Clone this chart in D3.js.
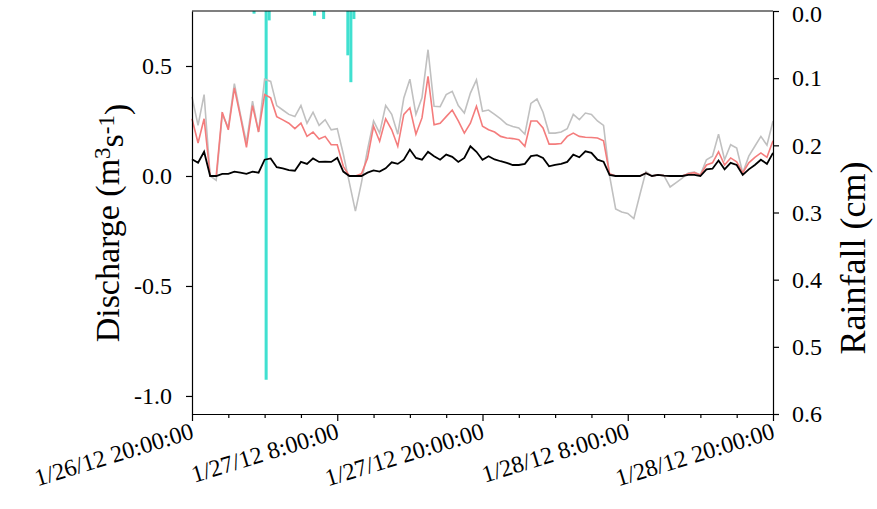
<!DOCTYPE html>
<meta charset="utf-8">
<style>
body { margin: 0; background: #fff; }
.axis path, .axis line { stroke: #000; stroke-width: 1.2; }
</style>
<body>
<script src="https://d3js.org/d3.v7.min.js"></script>
<script>

var width = 877,
    height = 509;

var margin = {top: 11, right: 104, bottom: 95, left: 192};
var serif = "Liberation Serif";

// discharge series, one value every 30 min from 1/26/12 20:00 to 1/28/12 20:00
var grayQ = [0.36, 0.23, 0.37, 0.0, -0.02, 0.28, 0.22, 0.42, 0.28, 0.15,
  0.34, 0.20, 0.44, 0.43, 0.32, 0.30, 0.28, 0.27, 0.32, 0.24,
  0.29, 0.23, 0.256, 0.21, 0.215, 0.10, -0.03, -0.16, -0.03, 0.12,
  0.25, 0.195, 0.32, 0.28, 0.19, 0.355, 0.44, 0.28, 0.355, 0.574,
  0.317, 0.315, 0.37, 0.385, 0.32, 0.286, 0.377, 0.437, 0.294, 0.30,
  0.28, 0.26, 0.235, 0.225, 0.218, 0.19, 0.33, 0.35, 0.29, 0.195,
  0.195, 0.20, 0.215, 0.28, 0.256, 0.286, 0.28, 0.25, 0.23, 0.0,
  -0.15, -0.164, -0.17, -0.194, -0.085, 0.02, 0.0, 0.005, 0.0, -0.05,
  -0.03, -0.01, 0.014, 0.018, 0.005, 0.074, 0.09, 0.19, 0.074, 0.142,
  0.127, 0.014, 0.09, 0.135, 0.18, 0.14, 0.25];

var redQ = [0.26, 0.15, 0.26, 0.0, 0.0, 0.29, 0.21, 0.40, 0.27, 0.13,
  0.32, 0.20, 0.37, 0.355, 0.27, 0.255, 0.24, 0.215, 0.24, 0.18,
  0.20, 0.168, 0.18, 0.142, 0.142, 0.044, 0.0, 0.0, 0.01, 0.08,
  0.226, 0.158, 0.26, 0.21, 0.135, 0.28, 0.31, 0.19, 0.264, 0.453,
  0.233, 0.24, 0.27, 0.30, 0.25, 0.195, 0.24, 0.317, 0.226, 0.21,
  0.20, 0.18, 0.173, 0.17, 0.165, 0.135, 0.25, 0.25, 0.218, 0.145,
  0.145, 0.148, 0.18, 0.195, 0.18, 0.176, 0.175, 0.173, 0.16, 0.01,
  0.0, 0.0, 0.0, 0.0, 0.0, 0.013, 0.0, 0.005, 0.002, 0.0,
  0.0, 0.0, 0.01, 0.015, 0.005, 0.05, 0.06, 0.11, 0.05, 0.082,
  0.064, 0.014, 0.06, 0.085, 0.105, 0.085, 0.16];

var blackQ = [0.076, 0.06, 0.11, 0.0, 0.0, 0.01, 0.01, 0.02, 0.015, 0.01,
  0.02, 0.015, 0.074, 0.08, 0.04, 0.035, 0.027, 0.024, 0.064, 0.055,
  0.08, 0.064, 0.065, 0.064, 0.082, 0.02, 0.0, 0.0, 0.0, 0.015,
  0.025, 0.02, 0.035, 0.062, 0.055, 0.074, 0.12, 0.082, 0.074, 0.11,
  0.09, 0.074, 0.097, 0.087, 0.064, 0.082, 0.135, 0.11, 0.074, 0.09,
  0.075, 0.067, 0.06, 0.05, 0.05, 0.055, 0.09, 0.095, 0.082, 0.044,
  0.05, 0.055, 0.064, 0.097, 0.085, 0.112, 0.105, 0.074, 0.065, 0.005,
  0.0, 0.0, 0.0, 0.0, 0.0, 0.013, 0.0, 0.005, 0.002, 0.0,
  0.0, 0.0, 0.005, 0.005, 0.0, 0.03, 0.033, 0.07, 0.03, 0.06,
  0.05, 0.005, 0.03, 0.05, 0.074, 0.055, 0.105];

// rainfall, 15 min totals (cm)
var rainTimes = ["2012-01-27 01:00", "2012-01-27 02:00", "2012-01-27 02:15",
  "2012-01-27 06:00", "2012-01-27 06:45", "2012-01-27 08:45",
  "2012-01-27 09:00", "2012-01-27 09:15"];
var rainCm = [0.004, 0.549, 0.014, 0.007, 0.012, 0.066, 0.106, 0.012];

var leftTicks = [-1.0, -0.5, 0.0, 0.5];
var rightTicks = [0, 0.1, 0.2, 0.3, 0.4, 0.5, 0.6];

var parseT = d3.timeParse("%Y-%m-%d %H:%M");
var start = parseT("2012-01-26 20:00"),
    end = parseT("2012-01-28 20:00");

var qTimes = grayQ.map(function(d, i) { return d3.timeMinute.offset(start, 30 * i); });

var svg = d3.select("body").append("svg")
    .attr("width", width)
    .attr("height", height);

var x = d3.scaleTime()
    .domain([start, end])
    .range([margin.left, width - margin.right]);

var y = d3.scaleLinear()
    .domain([-1.082, 0.75])
    .range([height - margin.bottom, margin.top]);

var yR = d3.scaleLinear()
    .domain([0, 0.6])
    .range([margin.top, height - margin.bottom]);

// rain bars hanging from the top
svg.append("g").selectAll("rect")
    .data(rainCm)
    .enter().append("rect")
    .attr("x", function(d, i) { return x(parseT(rainTimes[i])); })
    .attr("width", function(d, i) {
      var t = parseT(rainTimes[i]);
      return x(d3.timeMinute.offset(t, 15)) - x(t);
    })
    .attr("y", yR(0))
    .attr("height", function(d) { return yR(d) - yR(0); })
    .style("fill", "#40E0D0");

var line = d3.line()
    .x(function(d, i) { return x(qTimes[i]); })
    .y(function(d) { return y(d); });

svg.append("path").datum(grayQ)
    .attr("d", line)
    .style("fill", "none").style("stroke", "#c0c0c0").style("stroke-width", 1.6);
svg.append("path").datum(redQ)
    .attr("d", line)
    .style("fill", "none").style("stroke", "#f47c7c").style("stroke-width", 1.6);
svg.append("path").datum(blackQ)
    .attr("d", line)
    .style("fill", "none").style("stroke", "#000").style("stroke-width", 1.8);

// frame top
svg.append("line")
    .attr("x1", margin.left).attr("x2", width - margin.right)
    .attr("y1", margin.top).attr("y2", margin.top)
    .style("stroke", "#000").style("stroke-width", 1.2);

var f1 = function(d) { return d.toFixed(1); };

// left axis
var gL = svg.append("g").attr("class", "axis")
    .attr("transform", "translate(" + margin.left + ",0)")
    .call(d3.axisLeft(y).tickValues(leftTicks).tickSize(6).tickSizeOuter(0).tickFormat(f1));

// right axis
var gR = svg.append("g").attr("class", "axis")
    .attr("transform", "translate(" + (width - margin.right) + ",0)")
    .call(d3.axisRight(yR).tickValues(rightTicks).tickSize(6).tickSizeOuter(0).tickFormat(f1));

// bottom axis: ticks every 3h from 20:00, labels every 12h
var endPlus = d3.timeMinute.offset(end, 1);
var fmt = d3.timeFormat("%-m/%-d/%y %-H:%M:%S");
var gB = svg.append("g").attr("class", "axis")
    .attr("transform", "translate(0," + (height - margin.bottom) + ")")
    .call(d3.axisBottom(x).tickValues(d3.timeHour.range(start, endPlus, 3))
      .tickSize(4).tickSizeOuter(0).tickFormat(""));
gB.selectAll(".tick line")
    .attr("y2", function(d) { return d.getHours() % 12 == 8 ? 7 : 4; });

gL.attr("font-family", serif).attr("font-size", 24);
gR.attr("font-family", serif).attr("font-size", 24);
gL.selectAll("text").attr("x", -20);
gR.selectAll("text").attr("x", 19);
gR.selectAll("text").attr("dy", function(d) { return d == 0 ? "0.42em" : "0.32em"; });

svg.append("g")
    .attr("font-family", serif)
    .attr("font-size", 24)
  .selectAll("text")
    .data(d3.timeHour.range(start, endPlus, 12))
    .enter().append("text")
    .attr("transform", function(d) {
      return "translate(" + (x(d) + 3) + ",438) rotate(-17)";
    })
    .attr("text-anchor", "end")
    .text(function(d) { return fmt(d); });

// axis titles
var lt = svg.append("text")
    .attr("transform", "translate(119,223) rotate(-90)")
    .attr("text-anchor", "middle")
    .attr("font-family", serif)
    .attr("font-size", 34);
lt.append("tspan").text("Discharge (m");
lt.append("tspan").attr("dy", "-0.4em").attr("font-size", 23).text("3");
lt.append("tspan").attr("dy", "0.4em").text("s");
lt.append("tspan").attr("dy", "-0.4em").attr("font-size", 23).text("-1");
lt.append("tspan").attr("dy", "0.4em").text(")");

svg.append("text")
    .attr("transform", "translate(865,258) rotate(-90)")
    .attr("text-anchor", "middle")
    .attr("font-family", serif)
    .attr("font-size", 36)
    .text("Rainfall (cm)");

</script>
